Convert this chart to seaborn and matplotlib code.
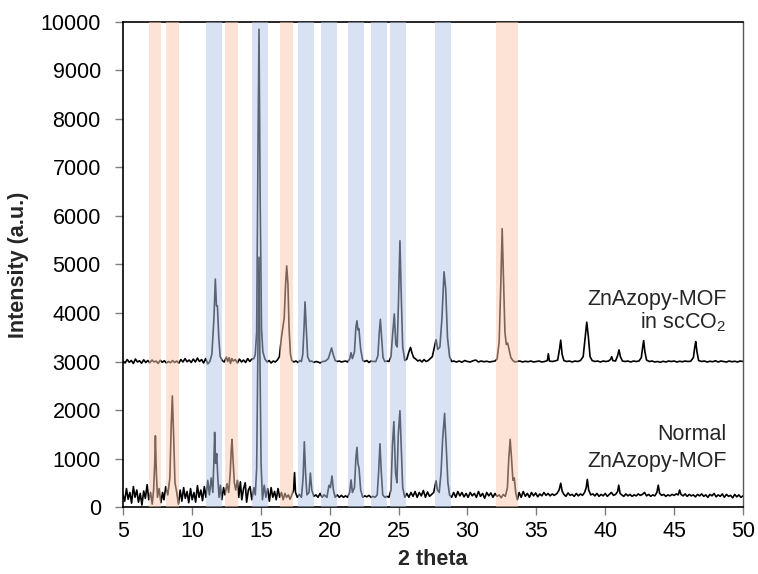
import matplotlib
matplotlib.use('Agg')
import matplotlib.pyplot as plt
import seaborn as sns
import numpy as np
import pandas as pd

# --- data: (2 theta, intensity) ---
scco2_pts = [
    (5.0, 3010), (5.15, 2970), (5.3, 3040), (5.45, 2985), (5.6, 3020), (5.75, 2960), (5.9, 3050), (6.05, 2990),
    (6.2, 3015), (6.35, 2965), (6.5, 3035), (6.65, 2980), (6.8, 3020), (6.95, 2975), (7.1, 3030), (7.25, 2990),
    (7.4, 3010), (7.55, 2960), (7.7, 3025), (7.85, 2985), (8.0, 3015), (8.15, 2970), (8.3, 3000), (8.45, 2975),
    (8.6, 3020), (8.75, 2980), (8.9, 3010), (9.05, 2965), (9.2, 3040), (9.35, 2990), (9.5, 3060), (9.65, 2995),
    (9.8, 3030), (9.95, 2980), (10.1, 3050), (10.25, 2990), (10.4, 3070), (10.55, 3000), (10.7, 3040),
    (10.85, 2970), (11.0, 3060), (11.15, 2950), (11.3, 3000), (11.45, 3150), (11.6, 3900), (11.7, 4700),
    (11.78, 4150), (11.85, 4150), (11.95, 3500), (12.05, 3100), (12.2, 3020), (12.35, 2990), (12.5, 3090),
    (12.6, 3000), (12.7, 3080), (12.8, 2960), (12.9, 3060), (13.0, 3010), (13.15, 3040), (13.3, 2970),
    (13.45, 3050), (13.6, 2990), (13.75, 3030), (13.9, 2980), (14.05, 3060), (14.2, 3000), (14.35, 3050),
    (14.5, 3060), (14.6, 3150), (14.7, 3600), (14.8, 7500), (14.87, 9850), (14.95, 6500), (15.05, 3700),
    (15.15, 3200), (15.3, 3050), (15.45, 2990), (15.6, 3020), (15.75, 2970), (15.9, 3010), (16.05, 2990),
    (16.2, 3030), (16.35, 3100), (16.5, 3500), (16.6, 3700), (16.7, 3900), (16.8, 4600), (16.88, 4970),
    (16.97, 4600), (17.05, 3700), (17.15, 3150), (17.25, 3020), (17.4, 2990), (17.55, 3010), (17.7, 2980),
    (17.85, 3020), (17.95, 3000), (18.05, 3150), (18.14, 3700), (18.21, 4230), (18.3, 3700), (18.4, 3100),
    (18.55, 3000), (18.7, 3010), (18.85, 2980), (19.0, 3000), (19.15, 2990), (19.3, 2970), (19.5, 3000),
    (19.7, 3010), (19.9, 3060), (20.05, 3200), (20.14, 3280), (20.25, 3150), (20.4, 3020), (20.55, 3000),
    (20.7, 3010), (20.85, 2990), (21.0, 3000), (21.15, 3010), (21.3, 2990), (21.45, 3050), (21.55, 3180),
    (21.65, 3060), (21.8, 3200), (21.9, 3700), (21.98, 3840), (22.05, 3650), (22.12, 3680), (22.25, 3250),
    (22.4, 3020), (22.55, 3000), (22.7, 3020), (22.85, 2980), (23.0, 3010), (23.15, 3000), (23.35, 3000),
    (23.5, 3120), (23.6, 3600), (23.68, 3870), (23.77, 3500), (23.87, 3080), (24.0, 3000), (24.15, 3010),
    (24.3, 3000), (24.45, 3100), (24.58, 3600), (24.69, 3980), (24.8, 3350), (24.9, 3300), (25.0, 4300),
    (25.1, 5490), (25.2, 4300), (25.3, 3300), (25.45, 3020), (25.6, 3050), (25.75, 3200), (25.87, 3290),
    (25.97, 3180), (26.1, 3080), (26.25, 3050), (26.4, 3010), (26.55, 3030), (26.7, 2990), (26.85, 3040),
    (27.0, 3000), (27.15, 3020), (27.3, 3060), (27.45, 3100), (27.6, 3300), (27.72, 3450), (27.85, 3250),
    (28.0, 3300), (28.15, 3900), (28.3, 4850), (28.42, 4500), (28.55, 3500), (28.7, 3100), (28.85, 3000),
    (29.0, 3010), (29.2, 2990), (29.4, 3010), (29.6, 2985), (29.8, 3020), (30.0, 3000), (30.2, 2990),
    (30.4, 3015), (30.6, 3030), (30.8, 2990), (31.0, 3010), (31.2, 2995), (31.4, 3005), (31.6, 2990),
    (31.8, 3000), (32.0, 3010), (32.15, 3050), (32.3, 3400), (32.42, 4600), (32.52, 5740), (32.62, 4700),
    (32.72, 3600), (32.82, 3350), (32.92, 3380), (33.02, 3250), (33.15, 3080), (33.3, 3020), (33.45, 2990),
    (33.6, 3000), (33.8, 3010), (34.0, 2990), (34.2, 3005), (34.4, 2995), (34.6, 3010), (34.8, 2990),
    (35.0, 3000), (35.2, 3010), (35.4, 2990), (35.6, 3000), (35.8, 3020), (35.87, 3160), (35.95, 3010),
    (36.15, 3000), (36.35, 3010), (36.55, 3030), (36.68, 3250), (36.77, 3440), (36.87, 3150), (37.0, 3020),
    (37.2, 3000), (37.4, 3010), (37.6, 2990), (37.8, 3010), (38.0, 3000), (38.2, 3020), (38.4, 3100),
    (38.55, 3500), (38.66, 3810), (38.78, 3500), (38.9, 3100), (39.05, 3020), (39.25, 3000), (39.45, 3010),
    (39.65, 2990), (39.85, 3010), (40.05, 3000), (40.25, 3010), (40.4, 3050), (40.47, 3100), (40.55, 3020),
    (40.75, 3010), (40.9, 3120), (41.0, 3240), (41.1, 3100), (41.25, 3010), (41.45, 3000), (41.65, 3010),
    (41.85, 2990), (42.05, 3010), (42.25, 3000), (42.45, 3010), (42.62, 3080), (42.72, 3300), (42.79, 3430),
    (42.88, 3200), (43.0, 3030), (43.2, 3000), (43.4, 3010), (43.6, 2990), (43.8, 3000), (44.0, 2985),
    (44.2, 3005), (44.4, 2990), (44.6, 3010), (44.8, 3000), (45.0, 3010), (45.2, 2990), (45.4, 3005),
    (45.6, 2995), (45.8, 3010), (46.0, 3000), (46.2, 3005), (46.4, 3080), (46.5, 3300), (46.57, 3410),
    (46.66, 3200), (46.78, 3020), (47.0, 3000), (47.2, 3010), (47.4, 2990), (47.6, 3005), (47.8, 2995),
    (48.0, 3015), (48.2, 2990), (48.4, 3010), (48.6, 3000), (48.8, 2990), (49.0, 3010), (49.2, 2995),
    (49.4, 3005), (49.6, 2990), (49.8, 3010), (50.0, 3000),
]

normal_pts = [
    (5.0, 250), (5.12, 120), (5.25, 380), (5.37, 160), (5.5, 300), (5.62, 80), (5.75, 420), (5.87, 200),
    (6.0, 350), (6.12, 100), (6.25, 280), (6.37, 40), (6.5, 330), (6.62, 180), (6.75, 460), (6.87, 150),
    (7.0, 300), (7.12, 60), (7.22, 350), (7.3, 900), (7.35, 1470), (7.42, 700), (7.5, 200), (7.62, 380),
    (7.75, 90), (7.87, 300), (7.97, 150), (8.1, 420), (8.25, 250), (8.4, 600), (8.5, 1700), (8.58, 2290),
    (8.67, 1500), (8.77, 500), (8.9, 300), (9.02, 60), (9.15, 350), (9.27, 120), (9.4, 400), (9.52, 180),
    (9.65, 320), (9.77, 90), (9.9, 380), (10.02, 150), (10.15, 300), (10.27, 100), (10.4, 440), (10.52, 200),
    (10.65, 350), (10.77, 130), (10.9, 420), (11.02, 200), (11.15, 550), (11.27, 250), (11.4, 600),
    (11.52, 300), (11.6, 1000), (11.65, 1540), (11.72, 900), (11.8, 1100), (11.88, 600), (11.97, 200),
    (12.07, 450), (12.17, 150), (12.3, 400), (12.4, 250), (12.55, 480), (12.67, 300), (12.78, 700),
    (12.86, 1200), (12.91, 1395), (12.98, 1000), (13.08, 500), (13.18, 350), (13.3, 550), (13.4, 200),
    (13.52, 520), (13.62, 150), (13.75, 380), (13.87, 500), (13.97, 100), (14.1, 350), (14.22, 420),
    (14.35, 150), (14.5, 400), (14.6, 250), (14.7, 800), (14.8, 3500), (14.87, 5150), (14.94, 3000),
    (15.02, 900), (15.12, 150), (15.25, 450), (15.37, 200), (15.5, 380), (15.62, 120), (15.75, 400),
    (15.87, 200), (16.0, 320), (16.12, 150), (16.25, 380), (16.37, 200), (16.5, 300), (16.62, 150),
    (16.75, 280), (16.87, 200), (17.0, 250), (17.12, 160), (17.25, 250), (17.38, 350), (17.45, 710),
    (17.52, 300), (17.65, 200), (17.8, 260), (17.95, 200), (18.07, 600), (18.16, 1345), (18.25, 700),
    (18.35, 250), (18.5, 300), (18.6, 700), (18.7, 350), (18.85, 220), (19.0, 250), (19.15, 200),
    (19.3, 280), (19.45, 200), (19.6, 250), (19.8, 200), (19.95, 450), (20.05, 400), (20.17, 640),
    (20.27, 350), (20.4, 200), (20.55, 250), (20.7, 200), (20.85, 240), (21.0, 200), (21.15, 230),
    (21.3, 200), (21.45, 300), (21.55, 560), (21.65, 300), (21.8, 400), (21.9, 1000), (21.98, 1230),
    (22.05, 900), (22.13, 800), (22.25, 350), (22.4, 200), (22.55, 230), (22.7, 210), (22.85, 240),
    (23.0, 200), (23.15, 220), (23.3, 200), (23.45, 250), (23.55, 700), (23.65, 1305), (23.75, 700),
    (23.85, 250), (24.0, 200), (24.15, 220), (24.3, 200), (24.45, 350), (24.56, 1300), (24.66, 1760),
    (24.78, 700), (24.88, 500), (24.98, 1500), (25.1, 1985), (25.2, 1200), (25.3, 400), (25.45, 200),
    (25.6, 280), (25.75, 200), (25.9, 300), (26.05, 220), (26.2, 320), (26.35, 200), (26.5, 300),
    (26.65, 230), (26.8, 340), (26.95, 200), (27.1, 310), (27.25, 220), (27.4, 260), (27.55, 300),
    (27.72, 540), (27.82, 350), (27.95, 300), (28.08, 700), (28.2, 1400), (28.34, 1930), (28.45, 1300),
    (28.58, 500), (28.7, 250), (28.85, 200), (29.0, 300), (29.15, 200), (29.3, 320), (29.45, 230),
    (29.6, 300), (29.75, 210), (29.9, 280), (30.05, 200), (30.2, 300), (30.35, 230), (30.5, 280),
    (30.65, 200), (30.8, 320), (30.95, 220), (31.1, 280), (31.25, 180), (31.4, 300), (31.55, 230),
    (31.7, 290), (31.85, 200), (32.0, 280), (32.15, 220), (32.3, 250), (32.45, 190), (32.6, 260),
    (32.75, 220), (32.9, 400), (33.0, 1000), (33.1, 1395), (33.2, 1000), (33.3, 550), (33.4, 600),
    (33.5, 300), (33.62, 150), (33.75, 300), (33.9, 200), (34.05, 320), (34.2, 220), (34.35, 280),
    (34.5, 200), (34.65, 300), (34.8, 230), (34.95, 290), (35.1, 210), (35.25, 270), (35.4, 230),
    (35.55, 300), (35.7, 240), (35.85, 280), (36.0, 230), (36.15, 270), (36.3, 240), (36.5, 280),
    (36.65, 350), (36.77, 490), (36.87, 330), (37.0, 260), (37.15, 220), (37.3, 290), (37.45, 240),
    (37.6, 260), (37.75, 220), (37.9, 280), (38.05, 230), (38.2, 270), (38.35, 240), (38.5, 300),
    (38.62, 400), (38.7, 570), (38.8, 350), (38.95, 250), (39.1, 270), (39.25, 230), (39.4, 280),
    (39.55, 220), (39.7, 260), (39.85, 230), (40.0, 280), (40.15, 220), (40.3, 260), (40.45, 300),
    (40.6, 240), (40.75, 260), (40.9, 320), (40.98, 450), (41.08, 280), (41.2, 250), (41.35, 220),
    (41.5, 270), (41.65, 230), (41.8, 260), (41.95, 220), (42.1, 250), (42.25, 230), (42.4, 270),
    (42.55, 240), (42.7, 260), (42.85, 300), (43.0, 230), (43.15, 260), (43.3, 220), (43.45, 250),
    (43.6, 230), (43.75, 300), (43.85, 450), (43.95, 280), (44.1, 240), (44.25, 260), (44.4, 220),
    (44.55, 250), (44.7, 230), (44.85, 260), (45.0, 240), (45.15, 270), (45.3, 250), (45.4, 350),
    (45.5, 260), (45.65, 230), (45.8, 270), (45.95, 220), (46.1, 260), (46.25, 230), (46.4, 250),
    (46.55, 210), (46.7, 260), (46.85, 230), (47.0, 270), (47.15, 220), (47.3, 250), (47.45, 200),
    (47.6, 260), (47.75, 230), (47.9, 280), (48.05, 210), (48.2, 250), (48.35, 220), (48.5, 270),
    (48.65, 200), (48.8, 260), (48.95, 220), (49.1, 240), (49.25, 190), (49.4, 260), (49.55, 210),
    (49.7, 250), (49.85, 200), (50.0, 230),
]

# highlighted 2theta ranges
orange_bands = [(6.89, 7.76), (8.12, 9.06), (12.43, 13.32), (16.42, 17.34), (32.07, 33.64)]
blue_bands = [(11.02, 12.16), (14.36, 15.50), (17.73, 18.84), (19.37, 20.51), (21.33, 22.47),
              (23.02, 24.14), (24.40, 25.51), (27.64, 28.78)]

xticks = [5, 10, 15, 20, 25, 30, 35, 40, 45, 50]
yticks = [0, 1000, 2000, 3000, 4000, 5000, 6000, 7000, 8000, 9000, 10000]

sns.set_style('ticks')
plt.rcParams['font.family'] = ['Liberation Sans', 'DejaVu Sans']
plt.rcParams['mathtext.default'] = 'regular'

frames = []
for name, pts in [('scCO2', scco2_pts), ('Normal', normal_pts)]:
    tt, cnt = zip(*pts)
    frames.append(pd.DataFrame({'theta': tt, 'intensity': cnt, 'sample': name}))
df = pd.concat(frames, ignore_index=True)

fig = plt.figure(figsize=(7.58, 5.74), dpi=100)
ax = fig.add_axes([0.1623, 0.1167, 0.8179, 0.8450])

sns.lineplot(data=df, x='theta', y='intensity', units='sample', estimator=None, sort=False,
             color='black', lw=1.2, ax=ax, zorder=2)

# semi-transparent bands drawn over the traces
for a, b in orange_bands:
    ax.axvspan(a, b, color='#FBC9AD', alpha=0.5, lw=0, zorder=3)
for a, b in blue_bands:
    ax.axvspan(a, b, color='#B5C7E7', alpha=0.5, lw=0, zorder=3)

ax.set_xlim(5, 50)
ax.set_ylim(0, 10000)
ax.set_xticks(xticks)
ax.set_yticks(yticks)
ax.tick_params(axis='both', labelsize=15.5, colors='#7f7f7f', labelcolor='black', length=6, width=1)
ax.tick_params(axis='y', pad=10)
ax.tick_params(axis='x', pad=4)
for s in ['left', 'bottom', 'top']:
    ax.spines[s].set_color('black')
    ax.spines[s].set_linewidth(1.2)
ax.spines['right'].set_color('#595959')
ax.spines['right'].set_linewidth(1.0)

ax.set_xlabel('2 theta', fontsize=15.5, fontweight='bold', labelpad=5)
ax.set_ylabel('Intensity (a.u.)', fontsize=15.5, fontweight='bold', labelpad=8)

ax.text(48.8, 4165, 'ZnAzopy-MOF', ha='right', va='baseline', fontsize=15.5)
ax.text(48.8, 3690, 'in scCO$_2$', ha='right', va='baseline', fontsize=15.5)
ax.text(48.8, 1380, 'Normal', ha='right', va='baseline', fontsize=15.5)
ax.text(48.8, 825, 'ZnAzopy-MOF', ha='right', va='baseline', fontsize=15.5)

fig.savefig('out.png', dpi=100)
